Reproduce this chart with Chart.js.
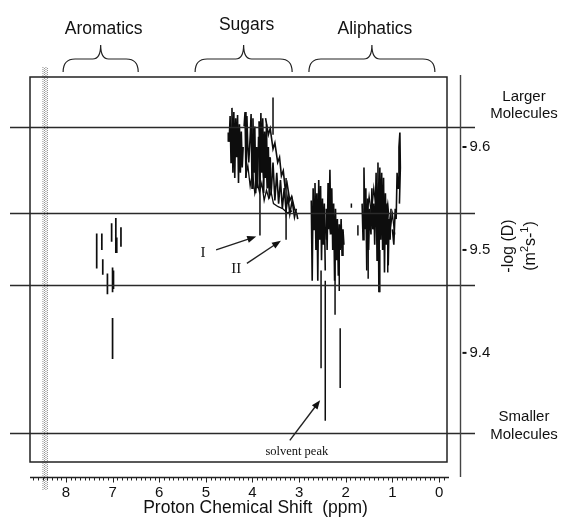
<!DOCTYPE html>
<html>
<head>
<meta charset="utf-8">
<script src="https://cdn.jsdelivr.net/npm/chart.js@4/dist/chart.umd.min.js"></script>
<style>
  html, body { margin: 0; padding: 0; background: #fff; }
  #wrap { width: 565px; height: 519px; }
</style>
</head>
<body>
<div id="wrap"><canvas id="dosy" width="565" height="519"></canvas></div>
<script>
// 2D DOSY map: proton chemical shift (ppm) against -log D (m^2 s^-1)

const xTickValues = [8, 7, 6, 5, 4, 3, 2, 1, 0];
const yTickValues = [9.6, 9.5, 9.4];
const levelLines = [9.619, 9.536, 9.466, 9.322];

// spectral regions marked with braces above the map (ppm from, ppm to)
const regionNames = ['Aromatics', 'Sugars', 'Aliphatics'];
const regionFrom = [8.06, 5.23, 2.79];
const regionTo = [6.45, 3.15, 0.09];

// isolated cross peaks: [ppm, upper -logD, lower -logD]
const aromaticSticks = [
  [7.34, 9.516, 9.482], [7.23, 9.516, 9.500], [7.21, 9.491, 9.476],
  [7.02, 9.526, 9.508], [6.93, 9.531, 9.497], [6.91, 9.512, 9.497],
  [6.82, 9.522, 9.503], [7.11, 9.477, 9.457], [7.00, 9.483, 9.459],
  [6.98, 9.480, 9.462], [7.00, 9.434, 9.394]
];
const sugarSticks = [
  [4.52, 9.614, 9.605], [3.84, 9.600, 9.514], [3.28, 9.570, 9.510], [3.56, 9.648, 9.612]
];
const aliphaticSticks = [
  [2.44, 9.470, 9.334], [2.53, 9.480, 9.385], [2.23, 9.500, 9.437],
  [2.14, 9.505, 9.460], [2.12, 9.424, 9.366], [1.88, 9.545, 9.541],
  [1.74, 9.524, 9.514], [1.52, 9.500, 9.472], [1.27, 9.500, 9.459], [1.10, 9.505, 9.478]
];

// contour traces: [ppm, -logD]
const sugarTraceA = [
  [4.50, 9.605], [4.48, 9.630], [4.46, 9.585], [4.44, 9.638], [4.42, 9.575], [4.40, 9.634],
  [4.38, 9.570], [4.36, 9.628], [4.34, 9.590], [4.32, 9.631], [4.30, 9.565], [4.28, 9.622],
  [4.26, 9.575], [4.24, 9.615], [4.22, 9.580], [4.20, 9.600]
];
const sugarTraceB = [
  [4.18, 9.620], [4.16, 9.634], [4.14, 9.570], [4.12, 9.630], [4.10, 9.600], [4.08, 9.585],
  [4.05, 9.610], [4.03, 9.632], [4.01, 9.560], [3.99, 9.628], [3.97, 9.575], [3.95, 9.620],
  [3.93, 9.555], [3.91, 9.600], [3.89, 9.560], [3.87, 9.610]
];
const sugarTraceC = [
  [3.86, 9.625], [3.84, 9.560], [3.82, 9.633], [3.80, 9.575], [3.78, 9.628], [3.76, 9.555],
  [3.74, 9.615], [3.72, 9.570], [3.70, 9.622], [3.68, 9.560], [3.66, 9.600], [3.64, 9.550],
  [3.62, 9.590], [3.60, 9.560]
];
const sugarTraceD = [
  [3.72, 9.628], [3.66, 9.612], [3.62, 9.618], [3.56, 9.598], [3.52, 9.604], [3.46, 9.585],
  [3.42, 9.590], [3.38, 9.572], [3.34, 9.577], [3.30, 9.560], [3.26, 9.565], [3.20, 9.548],
  [3.16, 9.552], [3.10, 9.540], [3.05, 9.535], [3.03, 9.530]
];
const sugarTraceE = [
  [3.80, 9.600], [3.76, 9.570], [3.72, 9.595], [3.68, 9.560], [3.64, 9.590], [3.60, 9.555],
  [3.56, 9.585], [3.52, 9.548], [3.48, 9.575], [3.44, 9.545], [3.40, 9.568], [3.36, 9.540],
  [3.32, 9.560], [3.28, 9.538], [3.24, 9.552], [3.20, 9.535], [3.15, 9.548], [3.10, 9.532],
  [3.06, 9.540]
];
const sugarTraceF = [
  [4.15, 9.570], [4.10, 9.582], [4.05, 9.562], [4.00, 9.575], [3.95, 9.555], [3.90, 9.566],
  [3.85, 9.556], [3.80, 9.565], [3.75, 9.548], [3.70, 9.558], [3.65, 9.550], [3.60, 9.556],
  [3.55, 9.545], [3.45, 9.542], [3.35, 9.540], [3.25, 9.536], [3.15, 9.538]
];
const aliphaticTraceA = [
  [2.74, 9.548], [2.72, 9.470], [2.70, 9.560], [2.68, 9.520], [2.66, 9.565], [2.64, 9.500],
  [2.62, 9.555], [2.60, 9.470], [2.58, 9.568], [2.56, 9.510], [2.54, 9.562], [2.52, 9.490],
  [2.50, 9.550], [2.48, 9.505], [2.46, 9.545], [2.44, 9.480]
];
const aliphaticTraceB = [
  [2.42, 9.540], [2.40, 9.500], [2.38, 9.565], [2.36, 9.520], [2.34, 9.578], [2.32, 9.515],
  [2.30, 9.560], [2.28, 9.500], [2.26, 9.545], [2.24, 9.470], [2.22, 9.540], [2.20, 9.490],
  [2.18, 9.530], [2.16, 9.475], [2.14, 9.525], [2.12, 9.500], [2.10, 9.530], [2.08, 9.495],
  [2.06, 9.520], [2.04, 9.505]
];
const aliphaticTraceC = [
  [2.70, 9.540], [2.66, 9.530], [2.62, 9.548], [2.58, 9.525], [2.54, 9.545], [2.50, 9.520],
  [2.46, 9.535], [2.42, 9.510], [2.38, 9.540], [2.34, 9.520], [2.30, 9.535], [2.26, 9.510],
  [2.22, 9.525], [2.18, 9.505], [2.14, 9.520], [2.10, 9.510]
];
const aliphaticTraceD = [
  [1.65, 9.545], [1.63, 9.510], [1.61, 9.580], [1.59, 9.520], [1.57, 9.560], [1.55, 9.480],
  [1.53, 9.550], [1.51, 9.500], [1.49, 9.540], [1.46, 9.515], [1.44, 9.560], [1.42, 9.520],
  [1.40, 9.545], [1.38, 9.505], [1.35, 9.575], [1.33, 9.490], [1.31, 9.585], [1.29, 9.459],
  [1.27, 9.580], [1.25, 9.510], [1.23, 9.575], [1.21, 9.500], [1.19, 9.570], [1.17, 9.478],
  [1.15, 9.555], [1.13, 9.505], [1.11, 9.545], [1.09, 9.485], [1.07, 9.530], [1.05, 9.510],
  [1.03, 9.540]
];
const aliphaticTraceE = [
  [1.00, 9.520], [0.97, 9.505], [0.94, 9.540], [0.92, 9.530], [0.90, 9.575], [0.88, 9.560],
  [0.86, 9.600], [0.84, 9.614], [0.83, 9.580], [0.85, 9.545]
];
const aliphaticTraceF = [
  [1.60, 9.540], [1.55, 9.530], [1.50, 9.552], [1.45, 9.535], [1.40, 9.560], [1.35, 9.540],
  [1.30, 9.565], [1.25, 9.540], [1.20, 9.560], [1.15, 9.530], [1.10, 9.545], [1.05, 9.520],
  [1.00, 9.535], [0.95, 9.515]
];

// annotation anchors in data units
const labelI = [5.06, 9.497], arrowI = [[4.78, 9.500], [3.92, 9.513]];
const labelII = [4.35, 9.481], arrowII = [[4.12, 9.487], [3.39, 9.509]];
const labelSolvent = [3.05, 9.304], arrowSolvent = [[3.20, 9.315], [2.55, 9.354]];
const gridStripPpm = 8.45;

const INK = '#0d0d0d';

function trace(points, width) {
  return {
    data: points.map(p => ({ x: p[0], y: p[1] })),
    showLine: true, pointRadius: 0, borderColor: INK, borderWidth: width || 1.6,
    tension: 0
  };
}
function sticks(list, width) {
  const data = [];
  list.forEach(s => {
    data.push({ x: s[0], y: s[1] }, { x: s[0], y: s[2] }, { x: s[0], y: null });
  });
  return { data, showLine: true, spanGaps: false, pointRadius: 0, borderColor: INK, borderWidth: width || 1.5 };
}

const SANS = '"Liberation Sans", Arial, sans-serif';
const SERIF = '"Liberation Serif", "Times New Roman", serif';

function arrow(ctx, x1, y1, x2, y2) {
  const ang = Math.atan2(y2 - y1, x2 - x1);
  const L = 9, W = 3.5;
  ctx.beginPath();
  ctx.moveTo(x1, y1);
  ctx.lineTo(x2 - Math.cos(ang) * 6, y2 - Math.sin(ang) * 6);
  ctx.stroke();
  ctx.beginPath();
  ctx.moveTo(x2, y2);
  ctx.lineTo(x2 - L * Math.cos(ang) + W * Math.sin(ang), y2 - L * Math.sin(ang) - W * Math.cos(ang));
  ctx.lineTo(x2 - L * Math.cos(ang) - W * Math.sin(ang), y2 - L * Math.sin(ang) + W * Math.cos(ang));
  ctx.closePath();
  ctx.fill();
}

const decorations = {
  id: 'dosyDecorations',
  beforeDatasetsDraw(chart) {
    const { ctx, chartArea: a, scales: { x } } = chart;
    ctx.save();
    // dotted grid strip running through the map
    const sx = x.getPixelForValue(gridStripPpm);
    ctx.strokeStyle = '#8a8a8a';
    ctx.lineWidth = 1;
    ctx.setLineDash([1, 1]);
    [-2, -0.5, 1, 2.5].forEach((d, i) => {
      ctx.lineDashOffset = i % 2;
      ctx.beginPath();
      ctx.moveTo(sx + d, a.top - 10);
      ctx.lineTo(sx + d, a.bottom + 28);
      ctx.stroke();
    });
    ctx.setLineDash([]);
    ctx.restore();
  },
  afterDatasetsDraw(chart) {
    const { ctx, chartArea: a, scales: { x, y } } = chart;
    ctx.save();
    ctx.strokeStyle = '#222';
    ctx.fillStyle = '#111';

    // frame
    ctx.lineWidth = 1.5;
    ctx.strokeRect(a.left, a.top, a.right - a.left, a.bottom - a.top);

    // horizontal diffusion levels
    ctx.strokeStyle = '#2a2a2a';
    ctx.lineWidth = 1.4;
    levelLines.forEach(v => {
      const py = Math.round(y.getPixelForValue(v)) + 0.5;
      ctx.beginPath();
      ctx.moveTo(a.left - 20, py);
      ctx.lineTo(a.right + 28, py);
      ctx.stroke();
    });

    // chemical shift axis
    const axY = a.bottom + 15.5;
    ctx.strokeStyle = '#222';
    ctx.lineWidth = 1.3;
    ctx.beginPath();
    ctx.moveTo(a.left, axY);
    ctx.lineTo(a.right + 2, axY);
    ctx.stroke();
    ctx.lineWidth = 1;
    for (let t = 87; t >= -1; t--) {
      const px = Math.round(x.getPixelForValue(t / 10)) + 0.5;
      const major = t % 10 === 0;
      ctx.beginPath();
      ctx.moveTo(px, axY);
      ctx.lineTo(px, axY + (major ? 5 : 3));
      ctx.stroke();
    }
    ctx.font = '15px ' + SANS;
    ctx.textAlign = 'center';
    ctx.textBaseline = 'middle';
    xTickValues.forEach(v => ctx.fillText(String(v), x.getPixelForValue(v), axY + 15));
    ctx.font = '17.5px ' + SANS;
    ctx.fillText('Proton Chemical Shift  (ppm)', (a.left + a.right) / 2 + 17, 508);

    // -logD axis on the right
    const ryX = a.right + 13.5;
    ctx.strokeStyle = '#444';
    ctx.lineWidth = 1.4;
    ctx.beginPath();
    ctx.moveTo(ryX, a.top - 2);
    ctx.lineTo(ryX, a.bottom + 15);
    ctx.stroke();
    ctx.lineWidth = 2;
    ctx.strokeStyle = '#111';
    ctx.font = '15px ' + SANS;
    ctx.textAlign = 'left';
    yTickValues.forEach(v => {
      const py = y.getPixelForValue(v);
      ctx.beginPath();
      ctx.moveTo(ryX + 2, py);
      ctx.lineTo(ryX + 6, py);
      ctx.stroke();
      ctx.fillText(v.toFixed(1), ryX + 9, py);
    });

    // axis title, rotated
    ctx.save();
    ctx.translate(509, 246);
    ctx.rotate(-Math.PI / 2);
    ctx.textAlign = 'center';
    ctx.font = '16px ' + SANS;
    ctx.fillText('-log (D)', 0, 0);
    ctx.restore();
    ctx.save();
    ctx.translate(531, 246);
    ctx.rotate(-Math.PI / 2);
    ctx.textAlign = 'left';
    const parts = [['(m', 16, 0], ['2', 11, -6], ['s-', 16, 0], ['1', 11, -6], [')', 16, 0]];
    let total = 0;
    parts.forEach(p => { ctx.font = p[1] + 'px ' + SANS; total += ctx.measureText(p[0]).width; });
    let cx = -total / 2;
    parts.forEach(p => {
      ctx.font = p[1] + 'px ' + SANS;
      ctx.fillText(p[0], cx, p[2]);
      cx += ctx.measureText(p[0]).width;
    });
    ctx.restore();

    // size captions
    ctx.textAlign = 'center';
    ctx.font = '15px ' + SANS;
    ctx.fillText('Larger', 524, 97);
    ctx.fillText('Molecules', 524, 114);
    ctx.fillText('Smaller', 524, 417);
    ctx.fillText('Molecules', 524, 435);

    // region braces with names
    ctx.strokeStyle = '#222';
    ctx.lineWidth = 1.2;
    const tipY = 72, barY = 59, cuspY = 45;
    regionNames.forEach((name, i) => {
      const x1 = x.getPixelForValue(regionFrom[i]);
      const x2 = x.getPixelForValue(regionTo[i]);
      const m = (x1 + x2) / 2;
      ctx.beginPath();
      ctx.moveTo(x1, tipY);
      ctx.quadraticCurveTo(x1, barY, x1 + 12, barY);
      ctx.lineTo(m - 8, barY);
      ctx.quadraticCurveTo(m, barY, m, cuspY);
      ctx.quadraticCurveTo(m, barY, m + 8, barY);
      ctx.lineTo(x2 - 12, barY);
      ctx.quadraticCurveTo(x2, barY, x2, tipY);
      ctx.stroke();
      ctx.font = '17.5px ' + SANS;
      ctx.textAlign = 'center';
      ctx.fillText(name, m + 3, i === 1 ? 25 : 29);
    });

    // peak annotations
    ctx.font = '15px ' + SERIF;
    ctx.fillText('I', x.getPixelForValue(labelI[0]), y.getPixelForValue(labelI[1]));
    ctx.fillText('II', x.getPixelForValue(labelII[0]), y.getPixelForValue(labelII[1]));
    ctx.font = '12.5px ' + SERIF;
    ctx.fillText('solvent peak', x.getPixelForValue(labelSolvent[0]), y.getPixelForValue(labelSolvent[1]));
    ctx.lineWidth = 1.4;
    [arrowI, arrowII, arrowSolvent].forEach(ar => {
      arrow(ctx, x.getPixelForValue(ar[0][0]), y.getPixelForValue(ar[0][1]),
        x.getPixelForValue(ar[1][0]), y.getPixelForValue(ar[1][1]));
    });
    ctx.restore();
  }
};

new Chart(document.getElementById('dosy'), {
  type: 'scatter',
  data: {
    datasets: [
      sticks(aromaticSticks, 1.7),
      sticks(sugarSticks, 1.5),
      sticks(aliphaticSticks, 1.5),
      trace(sugarTraceA), trace(sugarTraceB), trace(sugarTraceC),
      trace(sugarTraceD), trace(sugarTraceE), trace(sugarTraceF, 1.3),
      trace(aliphaticTraceA), trace(aliphaticTraceB), trace(aliphaticTraceC, 1.3),
      trace(aliphaticTraceD), trace(aliphaticTraceE), trace(aliphaticTraceF, 1.3)
    ]
  },
  options: {
    responsive: false,
    animation: false,
    devicePixelRatio: 1,
    layout: { padding: { left: 30, right: 118, top: 77, bottom: 57 } },
    plugins: { legend: { display: false }, tooltip: { enabled: false } },
    scales: {
      x: { type: 'linear', reverse: true, min: -0.17, max: 8.77, display: false },
      y: { type: 'linear', min: 9.294, max: 9.668, display: false }
    }
  },
  plugins: [decorations]
});
</script>
</body>
</html>
